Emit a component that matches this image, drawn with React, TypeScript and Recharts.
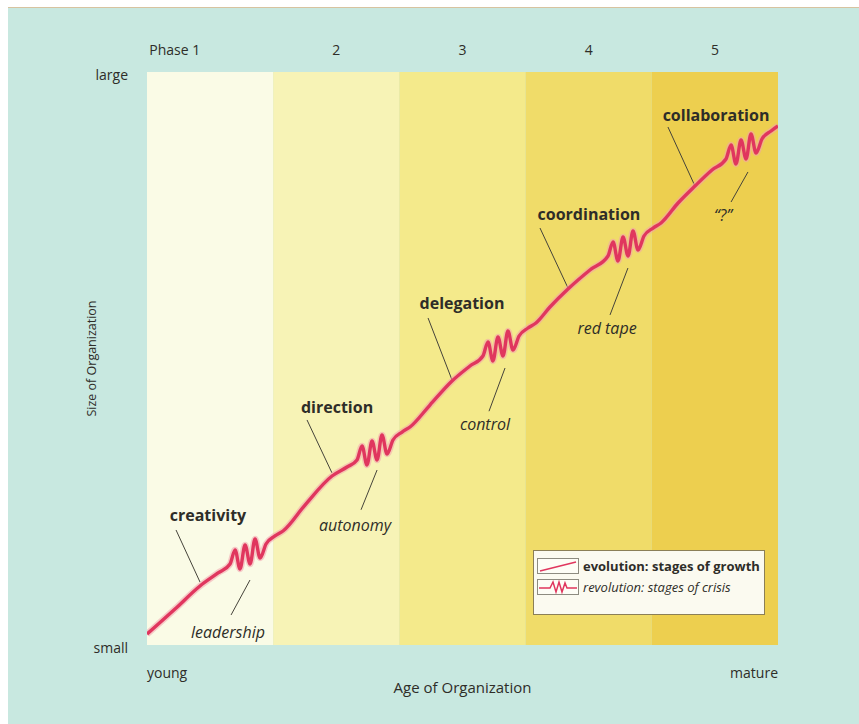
import React from 'react';
import {
  LineChart,
  Line,
  XAxis,
  YAxis,
  ReferenceArea,
  ReferenceLine,
  ReferenceDot,
} from 'recharts';

document.body.style.margin = '0';

const FONT = '"Open Sans", "Noto Sans", sans-serif';
const INK = '#2e2d28';
const RED = '#e0365e';

// phases along the age axis (10 units each)
const phaseStart = [0, 10, 20, 30, 40];
const phaseEnd = [10, 20, 30, 40, 50];
const phaseColors = ['#fafbe6', '#f7f3b6', '#f4ea8b', '#f0dc69', '#edcf4f'];
const phaseTicks = [2.2, 15, 25, 35, 45];
const phaseLabels = ['Phase 1', '2', '3', '4', '5'];

const ageTicks = [0, 50];
const ageLabels = ['young', 'mature'];
const sizeTicks = [0, 100];
const sizeLabels = ['small', 'large'];

// growth curve: evolution stretches broken by crisis zigzags
const ageValues = [
  0, 2.22, 4.2, 5.63, 6.58,
  6.98, 7.37, 7.77, 8.17, 8.56, 8.96, 9.43, 10.14, 10.78,
  12.52, 14.66, 15.85, 16.64,
  17.04, 17.43, 17.83, 18.23, 18.62, 19.02, 19.49, 20.21, 20.84,
  22.42, 24.17, 25.59, 26.62,
  27.02, 27.41, 27.81, 28.21, 28.6, 29.0, 29.48, 30.19, 30.82,
  31.93, 33.36, 35.1, 36.53,
  36.93, 37.32, 37.72, 38.12, 38.51, 38.91, 39.38, 40.1, 40.73,
  42.08, 43.42, 44.77, 45.88,
  46.28, 46.67, 47.07, 47.47, 47.86, 48.26, 48.73, 49.45, 50,
];
const sizeValues = [
  1.9, 6.28, 10.3, 12.57, 14.14,
  16.58, 13.27, 17.46, 14.14, 18.5, 15.19, 17.63, 19.03, 19.9,
  24.43, 29.49, 31.06, 32.29,
  34.73, 31.42, 35.61, 32.29, 36.65, 33.34, 35.78, 37.17, 38.05,
  41.88, 46.07, 48.69, 50.44,
  52.88, 49.57, 53.76, 50.44, 54.8, 51.49, 53.93, 55.32, 56.2,
  58.99, 62.13, 65.45, 67.89,
  70.33, 67.02, 71.21, 67.89, 72.25, 68.94, 71.38, 72.77, 73.65,
  77.14, 80.1, 82.9, 84.82,
  87.26, 83.95, 88.14, 84.82, 89.18, 85.87, 88.31, 89.7, 90.58,
];
const curve = ageValues.map((age, i) => ({ age, size: sizeValues[i] }));

// stage names (bold) and crises (italic), with their pointer lines
const labels = [
  { text: 'creativity', x: 4.83, y: 22.69, crisis: false, from: [2.3, 20.07], to: [4.2, 10.99] },
  { text: 'leadership', x: 6.42, y: 2.27, crisis: true, from: [8.16, 11.34], to: [6.66, 5.24] },
  { text: 'direction', x: 15.06, y: 41.54, crisis: false, from: [12.68, 39.27], to: [14.66, 30.02] },
  { text: 'autonomy', x: 16.48, y: 20.94, crisis: true, from: [18.23, 30.54], to: [16.96, 23.6] },
  { text: 'delegation', x: 24.96, y: 59.69, crisis: false, from: [22.27, 57.07], to: [24.17, 46.25] },
  { text: 'control', x: 26.78, y: 38.57, crisis: true, from: [28.37, 48.34], to: [27.1, 40.8] },
  { text: 'coordination', x: 35.02, y: 75.22, crisis: false, from: [31.14, 72.77], to: [33.36, 62.3] },
  { text: 'red tape', x: 36.45, y: 55.32, crisis: true, from: [38.11, 65.79], to: [36.69, 57.6] },
  { text: 'collaboration', x: 45.09, y: 92.5, crisis: false, from: [41.28, 90.4], to: [43.42, 80.1] },
  { text: '\u201c?\u201d', x: 45.64, y: 75.04, crisis: true, from: [47.62, 82.55], to: [46.28, 77.31] },
];

const PhaseTick = ({ x, y, index }: any) => (
  <text x={x} y={y} textAnchor="middle" fontFamily={FONT} fontSize={14} fill={INK}>
    {phaseLabels[index]}
  </text>
);

const AgeTick = ({ x, y, index }: any) => (
  <text x={x} y={y} textAnchor={index === 0 ? 'start' : 'end'} fontFamily={FONT} fontSize={14} fill={INK}>
    {ageLabels[index]}
  </text>
);

const SizeTick = ({ x, y, payload }: any) => (
  <text x={x} y={y} dy="0.55em" textAnchor="end" fontFamily={FONT} fontSize={14} fill={INK}>
    {sizeLabels[sizeTicks.indexOf(payload.value)]}
  </text>
);

const LegendBox = () => (
  <div
    style={{
      position: 'absolute',
      left: 533,
      top: 550,
      border: '1px solid #8b7f57',
      background: '#fbfaf0',
      padding: '5px 3px',
      boxSizing: 'border-box',
      width: 232,
      height: 65,
      fontFamily: FONT,
      fontSize: 13,
      color: INK,
    }}
  >
    <div style={{ display: 'flex', alignItems: 'center', height: 20 }}>
      <svg width={42} height={16} style={{ marginRight: 4 }}>
        <rect x={0.5} y={0.5} width={41} height={15} fill="#fdfdf6" stroke="#8d8b80" />
        <line x1={3} y1={13} x2={39} y2={4} stroke={RED} strokeWidth={1.5} />
      </svg>
      <span style={{ fontWeight: 700 }}>evolution: stages of growth</span>
    </div>
    <div style={{ display: 'flex', alignItems: 'center', height: 20, marginTop: 1 }}>
      <svg width={42} height={16} style={{ marginRight: 4 }}>
        <rect x={0.5} y={0.5} width={41} height={15} fill="#fdfdf6" stroke="#8d8b80" />
        <path
          d="M2,9 H13 L16,3 L19,13 L22,3 L25,13 L28,4 L30,9 H40"
          fill="none"
          stroke={RED}
          strokeWidth={1.5}
        />
      </svg>
      <span style={{ fontStyle: 'italic' }}>revolution: stages of crisis</span>
    </div>
  </div>
);

export default function App() {
  return (
    <div style={{ position: 'relative', width: 859, height: 724, background: '#ffffff', overflow: 'hidden' }}>
      <div
        style={{
          position: 'absolute',
          left: 8,
          top: 7,
          right: 0,
          bottom: 0,
          background: '#c8e8e0',
          borderTop: '1px solid #d7c3a0',
        }}
      />
      <div style={{ position: 'absolute', left: 0, top: 0 }}>
        <LineChart
          width={859}
          height={724}
          data={curve}
          margin={{ top: 42, right: 81, bottom: 39, left: 87 }}
          style={{ fontFamily: FONT }}
        >
          <XAxis
            dataKey="age"
            type="number"
            domain={[0, 50]}
            allowDataOverflow
            ticks={ageTicks}
            tick={<AgeTick />}
            height={40}
            axisLine={false}
            tickLine={false}
            tickSize={0}
            tickMargin={33}
            label={({ viewBox }: any) => (
              <text
                x={viewBox.x + viewBox.width / 2}
                y={viewBox.y + 48}
                textAnchor="middle"
                fontFamily={FONT}
                fontSize={15}
                fontWeight={500}
                fill={INK}
              >
                Age of Organization
              </text>
            )}
          />
          <XAxis
            xAxisId="phase"
            dataKey="age"
            orientation="top"
            type="number"
            domain={[0, 50]}
            allowDataOverflow
            ticks={phaseTicks}
            tick={<PhaseTick />}
            height={30}
            axisLine={false}
            tickLine={false}
            tickSize={0}
            tickMargin={17}
          />
          <YAxis
            type="number"
            domain={[0, 100]}
            allowDataOverflow
            ticks={sizeTicks}
            tick={<SizeTick />}
            width={60}
            axisLine={false}
            tickLine={false}
            tickSize={0}
            tickMargin={19}
            label={({ viewBox }: any) => {
              const cx = viewBox.x + 5;
              const cy = viewBox.y + viewBox.height / 2;
              return (
                <text
                  x={cx}
                  y={cy}
                  dy="0.35em"
                  textAnchor="middle"
                  transform={`rotate(-90, ${cx}, ${cy})`}
                  fontFamily={FONT}
                  fontSize={12.5}
                  fill={INK}
                >
                  Size of Organization
                </text>
              );
            }}
          />

          {phaseStart.map((x1, i) => (
            <ReferenceArea
              key={`band-${i}`}
              x1={x1}
              x2={phaseEnd[i]}
              y1={0}
              y2={100}
              fill={phaseColors[i]}
              fillOpacity={1}
              stroke="none"
            />
          ))}

          {labels.map((l, i) => (
            <ReferenceLine
              key={`ptr-${i}`}
              segment={[
                { x: l.from[0], y: l.from[1] },
                { x: l.to[0], y: l.to[1] },
              ]}
              stroke="#45433a"
              strokeWidth={1}
            />
          ))}

          <Line
            dataKey="size"
            type="monotone"
            stroke="#f3a2ad"
            strokeOpacity={0.55}
            strokeWidth={6.5}
            dot={false}
            activeDot={false}
            isAnimationActive={false}
          />
          <Line
            dataKey="size"
            type="monotone"
            stroke={RED}
            strokeWidth={3.4}
            dot={false}
            activeDot={false}
            isAnimationActive={false}
          />

          {labels.map((l, i) => (
            <ReferenceDot
              key={`lbl-${i}`}
              x={l.x}
              y={l.y}
              r={0}
              fill="none"
              stroke="none"
              label={{
                value: l.text,
                position: 'center',
                fill: INK,
                fontSize: 16,
                fontFamily: FONT,
                fontWeight: l.crisis ? 400 : 700,
                fontStyle: l.crisis ? 'italic' : 'normal',
              }}
            />
          ))}
        </LineChart>
      </div>
      <LegendBox />
    </div>
  );
}
